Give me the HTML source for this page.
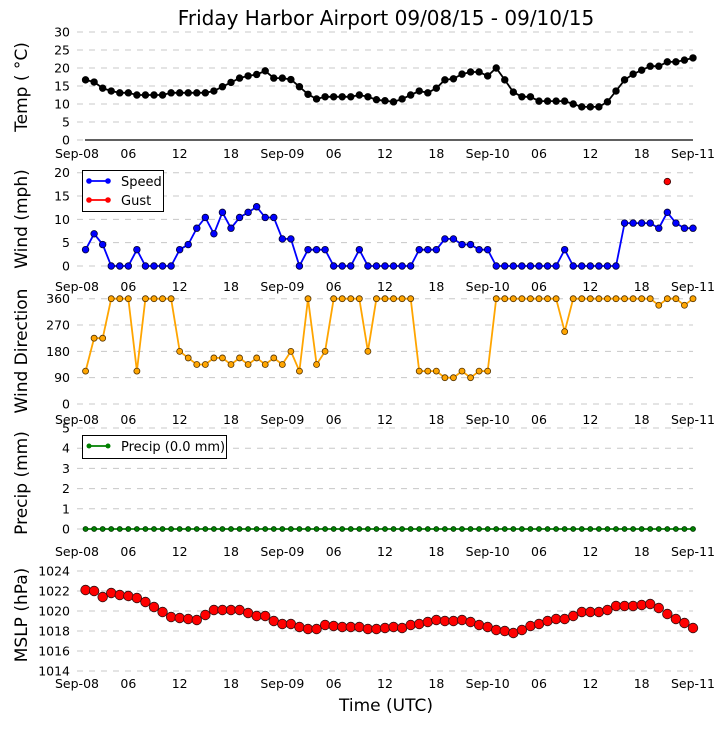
<!DOCTYPE html>
<html><head><meta charset="utf-8"><style>
body{margin:0;background:#fff;}
svg text{font-family:"DejaVu Sans","Liberation Sans",sans-serif;}
</style></head><body>
<svg id="c" width="725" height="725" xmlns="http://www.w3.org/2000/svg"></svg>
<script>
const hours=[];for(let h=1;h<=72;h++)hours.push(h);
const xTickLabels=["Sep-08","06","12","18","Sep-09","06","12","18","Sep-10","06","12","18","Sep-11"];
const xTickHours=[0,6,12,18,24,30,36,42,48,54,60,66,72];
const temps=[16.7,16.1,14.4,13.6,13.1,13.1,12.5,12.5,12.5,12.5,13.1,13.1,13.1,13.1,13.1,13.6,14.8,16.0,17.2,17.8,18.2,19.2,17.2,17.2,16.8,14.8,12.7,11.4,12.0,12.0,12.0,12.0,12.5,12.0,11.2,10.9,10.6,11.4,12.5,13.6,13.1,14.4,16.7,17.0,18.3,18.9,18.9,17.8,20.0,16.7,13.3,12.0,12.0,10.8,10.8,10.8,10.8,10.0,9.2,9.2,9.2,10.6,13.6,16.7,18.3,19.4,20.5,20.5,21.7,21.7,22.2,22.8];
const windSpeed=[3.5,6.9,4.6,0,0,0,3.5,0,0,0,0,3.5,4.6,8.1,10.4,6.9,11.5,8.1,10.4,11.5,12.7,10.4,10.4,5.8,5.8,0,3.5,3.5,3.5,0,0,0,3.5,0,0,0,0,0,0,3.5,3.5,3.5,5.8,5.8,4.6,4.6,3.5,3.5,0,0,0,0,0,0,0,0,3.5,0,0,0,0,0,0,9.2,9.2,9.2,9.2,8.1,11.5,9.2,8.1,8.1];
const gustHours=[69];
const gustValues=[18.1];
const windDir=[112.5,225,225,360,360,360,112.5,360,360,360,360,180,157.5,135,135,157.5,157.5,135,157.5,135,157.5,135,157.5,135,180,112.5,360,135,180,360,360,360,360,180,360,360,360,360,360,112.5,112.5,112.5,90,90,112.5,90,112.5,112.5,360,360,360,360,360,360,360,360,247.5,360,360,360,360,360,360,360,360,360,360,337.5,360,360,337.5,360];
const precip=hours.map(()=>0);
const mslp=[1022.1,1022.0,1021.4,1021.8,1021.6,1021.5,1021.3,1020.9,1020.4,1019.9,1019.4,1019.3,1019.2,1019.1,1019.6,1020.1,1020.1,1020.1,1020.1,1019.8,1019.5,1019.5,1019.0,1018.7,1018.7,1018.4,1018.2,1018.2,1018.6,1018.5,1018.4,1018.4,1018.4,1018.2,1018.2,1018.3,1018.4,1018.3,1018.6,1018.7,1018.9,1019.1,1019.0,1019.0,1019.1,1018.9,1018.6,1018.4,1018.1,1018.0,1017.8,1018.1,1018.5,1018.7,1019.0,1019.2,1019.2,1019.5,1019.9,1019.9,1019.9,1020.1,1020.5,1020.5,1020.5,1020.6,1020.7,1020.3,1019.7,1019.2,1018.8,1018.3];

const svg=document.getElementById('c');
const NS='http://www.w3.org/2000/svg';
function el(tag,attrs,parent){const e=document.createElementNS(NS,tag);for(const k in attrs)e.setAttribute(k,attrs[k]);(parent||svg).appendChild(e);return e;}
const X0=77,X1=693;
function xs(h){return X0+(X1-X0)*h/72;}
function makeY(v0,y0,v1,y1){return v=>y0+(v-v0)*(y1-y0)/(v1-v0);}

function panel(name,ys,ticks,tickLbl,labelText,labelY,xLabelY){
  const g=el('g',{});
  
  
  ticks.forEach((t,i)=>{
    const y=ys(t);
    const ln=el('line',{x1:X0,x2:X1,y1:y,y2:y,stroke:'#c8c8c8','stroke-width':1,'stroke-dasharray':'6,6'},g);
    
    
    const tx=el('text',{x:70,y:y+4.5,'text-anchor':'end','font-size':12.5,fill:'#000'},g);
    tx.textContent=tickLbl[i];
    
    
  });
  xTickHours.forEach((h,i)=>{
    const tx=el('text',{x:xs(h),y:xLabelY,'text-anchor':'middle','font-size':12.5,fill:'#000'},g);
    tx.textContent=xTickLabels[i];
    
    
  });
  const yl=el('text',{x:0,y:0,'text-anchor':'middle','font-size':17,fill:'#000',transform:`translate(27,${labelY}) rotate(-90)`},g);
  yl.textContent=labelText;
  
  
  return g;
}
function series(name,xsArr,vals,ys,color,r,line,edge){
  const g=el('g',{});
  
  
  if(line){
    let d='';let pen=false;
    vals.forEach((v,i)=>{if(v===null){pen=false;return;}d+=(pen?'L':'M')+xs(xsArr[i]).toFixed(1)+','+ys(v).toFixed(1);pen=true;});
    const p=el('path',{d:d,fill:'none',stroke:color,'stroke-width':1.8},g);
    
    
  }
  vals.forEach((v,i)=>{
    if(v===null)return;
    const c=el('circle',{cx:xs(xsArr[i]),cy:ys(v),r:r,fill:color,stroke:edge,'stroke-width':0.8},g);
    
    
  });
}

const title=el('text',{x:386,y:25,'text-anchor':'middle','font-size':20,fill:'#000'});
title.textContent='Friday Harbor Airport 09/08/15 - 09/10/15';



const yT=makeY(0,140,30,32);
panel('temp',yT,[0,5,10,15,20,25,30],['0','5','10','15','20','25','30'],'Temp ( \u00B0C)',87,158);
const ax=el('line',{x1:85,x2:X1,y1:140,y2:140,stroke:'#000','stroke-width':1.2});


series('temp',hours,temps,yT,'#000',3.3,true,'#000');

const yW=makeY(0,266,20,172.7);
panel('wind',yW,[0,5,10,15,20],['0','5','10','15','20'],'Wind (mph)',219,291);
series('wind-speed',hours,windSpeed,yW,'#0000ff',3.3,true,'#000033');
series('wind-gust',gustHours,gustValues,yW,'#ff0000',3.3,false,'#330000');
{
 const lg=el('g',{});
 el('rect',{x:82.5,y:170.5,width:81,height:41,fill:'#fff',stroke:'#000','stroke-width':1},lg);
 el('line',{x1:89,x2:108,y1:181,y2:181,stroke:'#0000ff','stroke-width':1.8},lg);
 el('circle',{cx:89,cy:181,r:2.8,fill:'#0000ff'},lg);el('circle',{cx:108,cy:181,r:2.8,fill:'#0000ff'},lg);
 const t1=el('text',{x:121,y:186,'font-size':13},lg);t1.textContent='Speed';
 
 el('line',{x1:89,x2:108,y1:200,y2:200,stroke:'#ff0000','stroke-width':1.8},lg);
 el('circle',{cx:89,cy:200,r:2.8,fill:'#ff0000'},lg);el('circle',{cx:108,cy:200,r:2.8,fill:'#ff0000'},lg);
 const t2=el('text',{x:121,y:205,'font-size':13},lg);t2.textContent='Gust';
 
}

const yD=makeY(0,404,360,298.7);
panel('wind-direction',yD,[0,90,180,270,360],['0','90','180','270','360'],'Wind Direction',351,424);
series('wind-direction',hours,windDir,yD,'#ffa500',3,true,'#553300');

const yP=makeY(0,529,5,428);
panel('precip',yP,[0,1,2,3,4,5],['0','1','2','3','4','5'],'Precip (mm)',483,556);
series('precip',hours,precip,yP,'#008000',2.5,true,'#003300');
{
 const lg=el('g',{});
 el('rect',{x:82.5,y:435.5,width:144,height:23,fill:'#fff',stroke:'#000','stroke-width':1},lg);
 el('line',{x1:89,x2:108,y1:446,y2:446,stroke:'#008000','stroke-width':1.8},lg);
 el('circle',{cx:89,cy:446,r:2.5,fill:'#008000'},lg);el('circle',{cx:108,cy:446,r:2.5,fill:'#008000'},lg);
 const t=el('text',{x:121,y:451,'font-size':13},lg);t.textContent='Precip (0.0 mm)';
 
}

const yM=makeY(1014,671,1024,571);
panel('mslp',yM,[1014,1016,1018,1020,1022,1024],['1014','1016','1018','1020','1022','1024'],'MSLP (hPa)',615,688);
series('mslp',hours,mslp,yM,'#ff0000',4.8,false,'#331111');

const xl=el('text',{x:386,y:711,'text-anchor':'middle','font-size':17,fill:'#000'});
xl.textContent='Time (UTC)';


</script>
</body></html>
